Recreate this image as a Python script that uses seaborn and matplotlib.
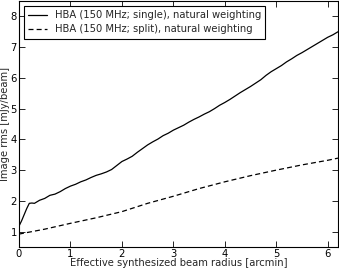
import matplotlib
matplotlib.use("Agg")
import matplotlib.pyplot as plt
import seaborn as sns
import pandas as pd

# Data
x_single = [0.0, 0.05, 0.1, 0.15, 0.2, 0.25, 0.3, 0.35, 0.4, 0.5, 0.6, 0.7, 0.8, 0.9,
            1.0, 1.1, 1.2, 1.3, 1.4, 1.5, 1.6, 1.7, 1.8, 1.9, 2.0, 2.1, 2.2, 2.3, 2.4,
            2.5, 2.6, 2.7, 2.8, 2.9, 3.0, 3.1, 3.2, 3.3, 3.4, 3.5, 3.6, 3.7, 3.8, 3.9,
            4.0, 4.1, 4.2, 4.3, 4.4, 4.5, 4.6, 4.7, 4.8, 4.9, 5.0, 5.1, 5.2, 5.3, 5.4,
            5.5, 5.6, 5.7, 5.8, 5.9, 6.0, 6.1, 6.2]
rms_single = [1.18, 1.35, 1.55, 1.75, 1.92, 1.93, 1.92, 1.97, 2.02, 2.08, 2.18, 2.22, 2.30, 2.40,
              2.48, 2.54, 2.62, 2.68, 2.76, 2.83, 2.88, 2.94, 3.02, 3.15, 3.28, 3.36, 3.45, 3.58, 3.70,
              3.82, 3.92, 4.01, 4.12, 4.20, 4.30, 4.38, 4.46, 4.56, 4.65, 4.73, 4.82, 4.90, 5.00, 5.11,
              5.20, 5.30, 5.41, 5.52, 5.62, 5.72, 5.83, 5.94, 6.08, 6.20, 6.30, 6.40, 6.52, 6.62, 6.73,
              6.82, 6.92, 7.02, 7.12, 7.22, 7.32, 7.40, 7.50]

x_split = [0.0, 0.5, 1.0, 1.5, 2.0, 2.5, 3.0, 3.5, 4.0, 4.5, 5.0, 5.5, 6.0, 6.2]
rms_split = [0.92, 1.08, 1.27, 1.45, 1.65, 1.92, 2.15, 2.40, 2.62, 2.82, 3.00, 3.17, 3.32, 3.39]

labels = ["HBA (150 MHz; single), natural weighting",
          "HBA (150 MHz; split), natural weighting"]
xlabel = "Effective synthesized beam radius [arcmin]"
ylabel = "Image rms [mJy/beam]"
xticks = [0, 1, 2, 3, 4, 5, 6]
yticks = [1, 2, 3, 4, 5, 6, 7, 8]

FS = 7.2

sns.set_style("ticks")
plt.rcParams['font.family'] = ['DejaVu Sans']
plt.rcParams['font.size'] = FS
plt.rcParams['xtick.direction'] = 'in'
plt.rcParams['ytick.direction'] = 'in'

df1 = pd.DataFrame({"x": x_single, "y": rms_single})
df2 = pd.DataFrame({"x": x_split, "y": rms_split})

fig = plt.figure(figsize=(3.39, 2.69), dpi=100)
ax = fig.add_axes([19/339, 22/269, 319/339, 246/269])

sns.lineplot(data=df1, x="x", y="y", ax=ax, color="black", lw=0.9, label=labels[0])
sns.lineplot(data=df2, x="x", y="y", ax=ax, color="black", lw=0.9, label=labels[1],
             dashes=False)
ax.lines[1].set_dashes((4, 2.5))

ax.set_xlim(0, 6.2)
ax.set_ylim(0.5, 8.5)
ax.set_xticks(xticks)
ax.set_yticks(yticks)
ax.set_xlabel(xlabel, fontsize=FS)
ax.set_ylabel(ylabel, fontsize=FS)
ax.xaxis.set_label_coords(0.5, -0.046)
ax.yaxis.set_label_coords(-0.027, 0.5)
ax.tick_params(axis='both', which='major', labelsize=FS, length=4, width=0.6,
               top=True, right=True, direction='in', pad=1.5, colors='black')
for s in ax.spines.values():
    s.set_visible(True)
    s.set_linewidth(0.8)
    s.set_color('black')

leg = ax.legend(loc="upper left", fontsize=FS, frameon=True, fancybox=False,
                handlelength=1.9, borderaxespad=0.5, borderpad=0.4,
                labelspacing=0.45)
leg.get_frame().set_edgecolor("black")
leg.get_frame().set_linewidth(0.8)
leg.get_frame().set_alpha(1)
for h in leg.get_lines():
    h.set_linewidth(0.9)
leg.get_lines()[1].set_dashes((4, 2.5))

fig.savefig("out.png", dpi=100)
